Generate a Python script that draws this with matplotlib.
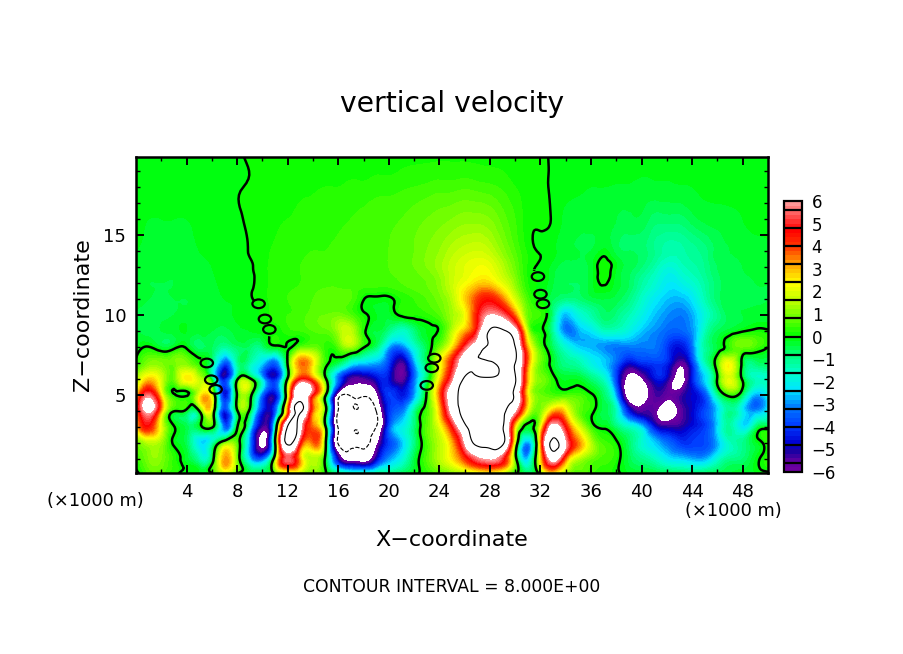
import numpy as np
import matplotlib
matplotlib.use("Agg")
import matplotlib.pyplot as plt
import matplotlib.tri as mtri
from matplotlib.cm import ScalarMappable
from matplotlib.colors import LinearSegmentedColormap, BoundaryNorm
from matplotlib.markers import MarkerStyle
from matplotlib.transforms import Affine2D

x_km = list(range(51))
z_km = [0.1, 1, 2, 3, 4, 5, 6, 7, 8, 9, 10, 11, 12, 13, 14, 16, 18, 20]

w_00 = [-.2,.6,.6,.2,-.3,-.3,-.1,1.2,0,-.6,-.6,.2,1.5,1.5,1,.1,-1,-1.5,-1.5,-1.2,-1,-.6,-.2,.3,.6,1,1.3,1.8,2.2,1.5,.1,-.6,.5,2.5,1,.6,.4,.3,.1,-.2,-.3,-.4,-.5,-.6,-.8,-.6,-.5,-.4,-.3,-.2,-.1]
w_01 = [.3,1,1,.3,-.3,-1.3,-.6,3.2,.8,-2.5,-3.5,1,5.5,3,1.5,-.3,-5,-6.5,-6.8,-5,-3,-2,-.5,.6,1.5,2.5,4,5.5,6,5,.6,-2.5,2.5,6.5,3.5,1.5,.8,.5,.2,-.5,-1,-1.5,-2.2,-2.5,-2.8,-2.8,-1.8,-1,-.8,-.2,.3]
w_02 = [.8,1.5,1.2,-.1,-.6,-2.3,-1.5,.9,.6,-3,-6.5,-.2,8.5,4.5,3.6,.2,-8.2,-8.6,-8.5,-6.5,-4,-2.7,-1,.5,1.5,3,6,8.5,9,8.5,1.5,-3,3,8.5,6,3.5,1.5,.5,.1,-.7,-1.7,-2.5,-3.3,-4,-4,-3.8,-2.8,-1.5,-1,-.3,.3]
w_03 = [2.5,4.5,2,.05,-.5,-.3,.2,-3.5,-.1,-2,-5.5,-1.5,8.2,6.5,3.6,.1,-8.2,-8.8,-8.8,-8,-3.8,-2.2,-.9,.7,2,4.5,7.5,9,9,8.2,2.5,-.3,2,6.5,4.5,2,.4,-.1,-.8,-1.6,-2.5,-4.5,-5.2,-5.2,-4.6,-4,-2.5,-1.2,-2.3,-.9,-.3]
w_04 = [3.5,6.3,3,.05,-.3,-.05,1.5,-4.3,-.2,-.3,-4.4,-3.8,3.5,8.5,3.5,.3,-8.1,-8.7,-8.8,-8,-4.2,-3.3,-1.2,.5,2.8,6.5,8.5,9,9,8.5,6,2,1,3,2.5,.8,.2,-.5,-1.6,-4.5,-5.5,-5.7,-6.8,-5.8,-4.8,-3.8,-2.5,-1,-2.2,-3,-2]
w_05 = [2.5,5.5,2.5,.1,-.1,2,1.6,-4.6,.1,.5,-3.5,-4.8,1.5,7.5,4.5,.1,-7,-7.8,-7.8,-6.5,-4,-4.5,-3,.1,3.5,7,8.5,9,9,8.7,7.5,2.5,.8,.5,.5,.5,.1,-.7,-3,-7,-7,-5.5,-5.7,-5.5,-4.8,-3.8,-1.2,.3,-.8,-2.8,-2]
w_06 = [1.2,2.8,1.8,.8,2.5,1.6,-.5,-4.6,-.3,.3,-2.5,-4.5,.2,4.5,3.5,.2,-3.5,-5.5,-5.5,-4.8,-4.6,-5.7,-3.5,-.8,2.5,5.5,8.2,8.3,8.2,8.8,8.2,3,1,.2,-.25,-.25,-.8,-1.6,-4,-6.5,-6.2,-4.7,-5,-6.5,-4.5,-2.5,.1,2,-.2,-1.5,-1.5]
w_07 = [.1,1,1,.9,1,.3,-1,-3.7,-1.2,-1.3,-2.5,-3.5,.1,3.5,2.5,.3,-.6,-2,-2.5,-2.8,-4,-5.5,-3,-.6,2,4.5,7,7.8,7.8,8.6,8,3.5,.8,-.3,-1,-1.3,-2,-2.5,-3.5,-4.7,-4.2,-4,-4.3,-5.7,-4.2,-1.5,.6,2.2,-.3,-.8,-.6]
w_08 = [-.3,.02,-.4,-.2,-.1,-.7,-.6,-1.2,-.7,-.7,-.8,-.2,-.05,.6,.8,.3,.6,1.3,.1,-.8,-2.8,-3.3,-1.8,-.5,.8,2.5,5,7,8.3,9,8,3,.5,-.7,-1.8,-2.5,-2.7,-3,-3.2,-3.2,-3.2,-3.2,-4,-4.6,-3.4,-1.2,-.4,.4,.8,.5,0]
w_09 = [-.4,-.5,-.4,-.3,-.2,-.3,-.4,-.5,-.3,-.2,-.1,.1,.3,.4,.6,.7,1.3,1.6,.2,-.4,-1,-1.6,-.9,-.2,.1,1.5,3,5,8.2,8.3,6.5,1.5,.1,-1.3,-3.2,-2.8,-2.3,-1.6,-1.6,-2,-2.6,-3,-3.4,-3.5,-3,-1.5,-.6,-.3,-.05,.1,.05]
w_10 = [-.4,-.5,-.5,-.4,-.3,-.3,-.3,-.3,-.15,-.1,.05,.3,.4,.5,.7,.8,.9,.6,.1,-.2,-.3,.1,.2,.3,.6,1.3,2.2,4.5,6,5.5,3.5,.8,.4,-1,-2.7,-1.9,-1.3,-.7,-.9,-1.4,-2,-2.6,-3,-3.2,-2.8,-1.8,-1,-.5,-.4,-.3,-.3]
w_11 = [-.3,-.4,-.5,-.4,-.4,-.3,-.3,-.2,-.15,-.03,.1,.3,.4,.5,.6,.7,.7,.6,.03,-.1,-.1,.2,.4,.6,.9,1.5,2.7,4,4.5,3.5,1.8,.5,0,-.6,-.9,-.8,-.5,-.4,-.5,-.9,-1.6,-2.2,-2.6,-2.7,-2.3,-1.4,-.7,-.5,-.5,-.5,-.4]
w_12 = [-.3,-.4,-.4,-.4,-.3,-.3,-.25,-.15,-.1,-.03,.1,.3,.35,.4,.5,.55,.55,.5,.5,.5,.5,.6,.7,.8,1.1,1.7,2.2,2.7,2.7,2,1.1,.2,-.04,-.4,-.6,-.6,-.3,.05,-.3,-.6,-1.2,-1.7,-2.2,-2.1,-1.7,-1.2,-.7,-.5,-.5,-.4,-.4]
w_13 = [-.25,-.3,-.35,-.35,-.3,-.25,-.2,-.15,-.1,-.02,.1,.3,.35,.4,.45,.5,.5,.5,.5,.5,.6,.7,.8,1,1.3,1.7,2,2.2,2.1,1.5,.8,.15,-.05,-.3,-.5,-.5,-.3,.15,-.2,-.5,-.8,-1.3,-1.8,-1.6,-1.3,-1,-.6,-.5,-.4,-.3,-.3]
w_14 = [-.2,-.25,-.3,-.3,-.25,-.2,-.15,-.1,-.07,.01,.1,.25,.3,.35,.4,.4,.45,.45,.5,.5,.6,.7,.8,1,1.2,1.5,1.7,1.8,1.6,1.1,.6,.15,-.02,-.15,-.35,-.4,-.4,-.15,-.5,-.6,-.7,-1,-1.3,-1.3,-1.1,-.9,-.5,-.4,-.3,-.25,-.2]
w_16 = [-.15,-.2,-.2,-.2,-.2,-.15,-.1,-.06,-.03,.03,.06,.15,.2,.25,.3,.3,.35,.4,.45,.5,.55,.6,.7,.8,.9,1,1.1,1.1,1,.7,.4,.1,.05,-.04,-.25,-.3,-.35,-.35,-.4,-.45,-.45,-.7,-.7,-.7,-.5,-.35,-.3,-.25,-.2,-.15,-.15]
w_18 = [-.08,-.1,-.12,-.12,-.1,-.1,-.08,-.06,-.03,.03,.06,.08,.1,.12,.15,.2,.2,.25,.25,.3,.3,.35,.4,.45,.5,.5,.55,.5,.45,.35,.2,.1,.05,-.04,-.12,-.15,-.2,-.2,-.22,-.22,-.25,-.25,-.25,-.22,-.2,-.15,-.12,-.1,-.08,-.06,-.05]
w_20 = [-.02,-.03,-.03,-.03,-.03,-.03,-.02,-.06,-.03,.03,.06,.03,.03,.04,.05,.06,.07,.08,.08,.09,.1,.1,.12,.12,.12,.12,.12,.12,.1,.08,.1,.1,.05,-.04,-.1,-.04,-.05,-.05,-.05,-.05,-.06,-.06,-.05,-.05,-.04,-.04,-.03,-.03,-.02,-.02,-.01]

field = np.array([w_00, w_01, w_02, w_03, w_04, w_05, w_06, w_07, w_08, w_09,
                  w_10, w_11, w_12, w_13, w_14, w_16, w_18, w_20])

loop_x = [5.6, 5.95, 6.3, 9.7, 10.2, 10.55, 23.6, 23.4, 23.0, 31.8, 32.0, 32.2]
loop_z = [7.0, 5.95, 5.35, 10.7, 9.75, 9.1, 7.3, 6.7, 5.6, 12.4, 11.3, 10.7]
gap_x0 = [5.2, 9.0, 22.4, 31.0]
gap_x1 = [7.0, 11.0, 24.2, 33.0]
gap_z0 = [5.1, 8.7, 5.2, 10.1]
gap_z1 = [7.3, 10.9, 7.5, 12.8]

shade_levels = np.arange(-6, 6.01, 0.2)
color_nodes = [
    (-6.0, (110, 0, 160)), (-5.6, (90, 0, 160)), (-5.2, (30, 0, 160)), (-4.8, (0, 0, 210)),
    (-4.0, (0, 60, 255)), (-3.2, (0, 120, 255)), (-2.4, (0, 230, 255)), (-1.6, (0, 255, 200)),
    (-0.8, (0, 255, 120)), (0.0, (0, 255, 0)), (0.8, (100, 255, 0)), (1.6, (190, 255, 0)),
    (2.4, (255, 255, 0)), (3.2, (255, 170, 0)), (4.0, (255, 60, 0)), (4.8, (255, 0, 0)),
    (5.6, (255, 100, 100)), (6.0, (255, 150, 150)),
]
cmap = LinearSegmentedColormap.from_list(
    "w", [((v + 6) / 12, tuple(c / 255 for c in rgb)) for v, rgb in color_nodes], N=60)
cmap.set_over("white")
cmap.set_under("white")

W, H = 904, 654
fig = plt.figure(figsize=(W / 100, H / 100), dpi=100, facecolor="white")
plt.rcParams["font.family"] = "DejaVu Sans"


def box(l, t, r, b):
    return [l / W, 1 - b / H, (r - l) / W, (b - t) / H]


# matplotlib's own triangulation and refiner smooth the shading between read values
gx, gz = np.meshgrid(x_km, z_km)
tri = mtri.Triangulation(gx.ravel(), gz.ravel())
fine_tri, fine_w = mtri.UniformTriRefiner(tri).refine_field(field.ravel(), subdiv=3)

cx = fine_tri.x[fine_tri.triangles].mean(axis=1)
cz = fine_tri.y[fine_tri.triangles].mean(axis=1)
gap = np.zeros(cx.shape, bool)
for a, b, c, d in zip(gap_x0, gap_x1, gap_z0, gap_z1):
    gap |= (cx > a) & (cx < b) & (cz > c) & (cz < d)
line_tri = mtri.Triangulation(fine_tri.x, fine_tri.y, fine_tri.triangles, mask=gap)

ax = fig.add_axes(box(136, 157, 768, 473))
ax.tricontourf(fine_tri, fine_w, levels=shade_levels, cmap=cmap, extend="both")
ax.tricontour(line_tri, fine_w, levels=[0], colors="k", linewidths=1.8)
ax.tricontour(fine_tri, fine_w, levels=[8], colors="k", linewidths=0.8, linestyles="solid")
ax.tricontour(fine_tri, fine_w, levels=[-8], colors="k", linewidths=0.8, linestyles="dashed")
oval = MarkerStyle("o", transform=Affine2D().scale(1.0, 0.7))
ax.scatter(loop_x, loop_z, s=80, marker=oval, facecolors="none", edgecolors="k", linewidths=1.6)
ax.set_xlim(0, 50)
ax.set_ylim(0.125, 19.875)
for s in ax.spines.values():
    s.set_linewidth(1.8)
ax.set_xticks(range(4, 49, 4))
ax.set_xticks(range(2, 50, 2), minor=True)
ax.set_yticks([5, 10, 15])
ax.set_yticks(range(1, 20), minor=True)
ax.tick_params(which="major", direction="in", length=6, width=1.4, top=True, right=True,
               labelsize=13, pad=7)
ax.tick_params(which="minor", direction="in", length=3, width=1.0, top=True, right=True)

cax = fig.add_axes(box(784, 201, 802, 472))
sm = ScalarMappable(norm=BoundaryNorm(shade_levels, cmap.N), cmap=cmap)
cb = fig.colorbar(sm, cax=cax, extend="neither", ticks=range(-6, 7), spacing="proportional",
                  drawedges=False)
cb.ax.set_yticklabels(["\u22126", "\u22125", "\u22124", "\u22123", "\u22122", "\u22121",
                       "0", "1", "2", "3", "4", "5", "6"])
cb.ax.tick_params(length=0, labelsize=12, pad=7)
cb.ax.minorticks_off()
cb.outline.set_linewidth(1.6)
cb.ax.hlines(np.arange(-5.6, 5.61, 0.8), 0, 1, transform=cb.ax.get_yaxis_transform(),
             colors="k", linewidth=1.6)


def label(px, py, s, size, **kw):
    fig.text(px / W, 1 - py / H, s, fontsize=size, ha=kw.pop("ha", "center"), va="center", **kw)


label(452, 104, "vertical velocity", 20.3)
label(452, 540, "X\u2212coordinate", 16)
label(83, 315, "Z\u2212coordinate", 16, rotation=90)
label(95, 501, "(\u00d71000 m)", 12.8)
label(733, 511, "(\u00d71000 m)", 12.8)
label(452, 587, "CONTOUR INTERVAL = 8.000E+00", 12.4)

fig.savefig("out.png", dpi=100)
